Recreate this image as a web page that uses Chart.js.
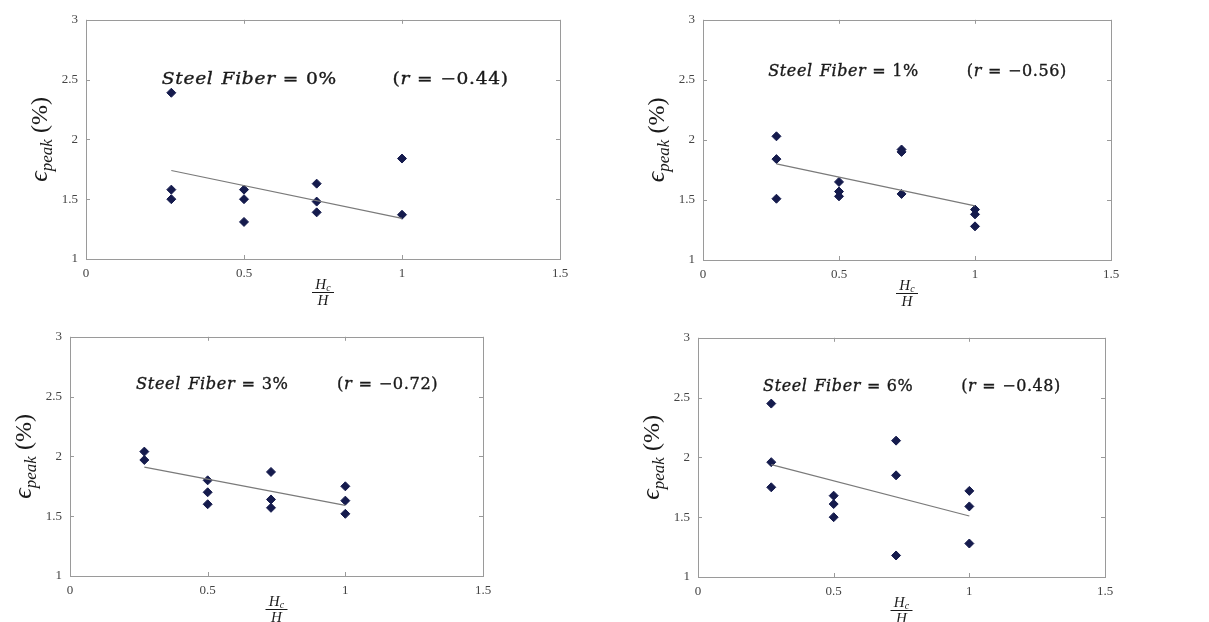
<!DOCTYPE html>
<html>
<head>
<meta charset="utf-8">
<script src="https://cdn.jsdelivr.net/npm/chart.js@4.4.0/dist/chart.umd.min.js"></script>
<style>
    html, body { margin: 0; padding: 0; background: #fff; width: 1209px; height: 622px; overflow: hidden; }
    .panel { position: absolute; }
</style>
</head>
<body>
<div id="p0" class="panel"><canvas id="c0"></canvas></div>
<div id="p1" class="panel"><canvas id="c1"></canvas></div>
<div id="p2" class="panel"><canvas id="c2"></canvas></div>
<div id="p3" class="panel"><canvas id="c3"></canvas></div>
<script>
// --- DATA ---
const xTicks = [0, 0.5, 1, 1.5];
const yTicks = [1, 1.5, 2, 2.5, 3];
const fiberLabels = ['0%', '1%', '3%', '6%'];
const rValues = ['\u22120.44', '\u22120.56', '\u22120.72', '\u22120.48'];

// Hc/H ratio and peak strain for each panel
const ratio0 = [0.27, 0.27, 0.27, 0.5, 0.5, 0.5, 0.73, 0.73, 0.73, 1, 1];
const strain0 = [2.39, 1.58, 1.50, 1.58, 1.50, 1.31, 1.63, 1.48, 1.39, 1.84, 1.37];
const ratio1 = [0.27, 0.27, 0.27, 0.5, 0.5, 0.5, 0.73, 0.73, 0.73, 1, 1, 1];
const strain1 = [2.03, 1.84, 1.51, 1.65, 1.57, 1.53, 1.92, 1.90, 1.55, 1.42, 1.38, 1.28];
const ratio3 = [0.27, 0.27, 0.5, 0.5, 0.5, 0.73, 0.73, 0.73, 1, 1, 1];
const strain3 = [2.04, 1.97, 1.80, 1.70, 1.60, 1.87, 1.64, 1.57, 1.75, 1.63, 1.52];
const ratio6 = [0.27, 0.27, 0.27, 0.5, 0.5, 0.5, 0.73, 0.73, 0.73, 1, 1, 1];
const strain6 = [2.45, 1.96, 1.75, 1.68, 1.61, 1.50, 2.14, 1.85, 1.18, 1.72, 1.59, 1.28];

// linear fit end points
const fitX = [0.27, 1];
const fit0 = [1.74, 1.34];
const fit1 = [1.80, 1.45];
const fit3 = [1.91, 1.59];
const fit6 = [1.94, 1.51];

// where the label sits (data units)
const labelY = [2.5, 2.57, 2.6, 2.59];

// --- LAYOUT (plot box in page pixels) ---
const areas = [
    { l: 86, t: 16, r: 560, b: 259 },
    { l: 703, t: 16, r: 1111, b: 260 },
    { l: 70, t: 333, r: 483, b: 576 },
    { l: 698, t: 334, r: 1105, b: 577 }
];
const AXIS_W = 70, AXIS_H = 50, PAD_T = 12, PAD_R = 25;
const BASE_W = 408; // plot width the label text is sized for

const panels = [
    { x: ratio0, y: strain0, fit: fit0 },
    { x: ratio1, y: strain1, fit: fit1 },
    { x: ratio3, y: strain3, fit: fit3 },
    { x: ratio6, y: strain6, fit: fit6 }
];

const SERIF = '"Liberation Serif", "DejaVu Serif", serif';
const MATH = '"DejaVu Serif", serif';

// --- PLUGIN: box, inward ticks, math-ish labels ---
const decorPlugin = {
    id: 'decor',
    afterDraw(chart, args, opts) {
        const { ctx, chartArea: a, scales } = chart;
        const xs = scales.x, ys = scales.y;
        ctx.save();

        // frame
        ctx.strokeStyle = '#9a9a9a';
        ctx.lineWidth = 1;
        ctx.strokeRect(Math.round(a.left) + 0.5, Math.round(a.top) + 0.5,
            Math.round(a.right - a.left), Math.round(a.bottom - a.top));

        // inward tick marks
        ctx.beginPath();
        xTicks.forEach(v => {
            const px = Math.round(xs.getPixelForValue(v)) + 0.5;
            ctx.moveTo(px, a.bottom); ctx.lineTo(px, a.bottom - 4);
            ctx.moveTo(px, a.top); ctx.lineTo(px, a.top + 4);
        });
        yTicks.forEach(v => {
            const py = Math.round(ys.getPixelForValue(v)) + 0.5;
            ctx.moveTo(a.left, py); ctx.lineTo(a.left + 4, py);
            ctx.moveTo(a.right, py); ctx.lineTo(a.right - 4, py);
        });
        ctx.stroke();

        // annotation text (stretched with the panel width, like the source image)
        const sx = (a.right - a.left) / BASE_W;
        ctx.fillStyle = '#1a1a1a';
        ctx.strokeStyle = '#1a1a1a';
        ctx.lineWidth = 0.35;
        ctx.textBaseline = 'middle';
        ctx.textAlign = 'left';
        const ty = ys.getPixelForValue(opts.labelY);
        const put = (txt, x) => { ctx.fillText(txt, x, 0); ctx.strokeText(txt, x, 0); };

        ctx.save();
        ctx.translate(xs.getPixelForValue(0.24), ty);
        ctx.scale(sx, 1);
        ctx.letterSpacing = '0.6px';
        let tx = 0;
        ctx.font = 'italic 16px ' + MATH;
        put('Steel', tx);
        tx += ctx.measureText('Steel').width + 7;
        put('Fiber', tx);
        tx += ctx.measureText('Fiber').width + 6;
        ctx.font = '16px ' + MATH;
        put('=', tx);
        tx += ctx.measureText('=').width + 6;
        put(opts.fiber, tx);
        ctx.restore();

        ctx.save();
        ctx.translate(xs.getPixelForValue(0.97), ty);
        ctx.scale(sx, 1);
        ctx.letterSpacing = '0.6px';
        tx = 0;
        ctx.font = '16px ' + MATH;
        put('(', tx);
        tx += ctx.measureText('(').width;
        ctx.font = 'italic 16px ' + MATH;
        put('r', tx);
        tx += ctx.measureText('r').width + 6;
        ctx.font = '16px ' + MATH;
        put('=', tx);
        tx += ctx.measureText('=').width + 6;
        put(opts.r + ')', tx);
        ctx.restore();

        // y axis title: epsilon_peak (%)
        ctx.save();
        ctx.translate(a.left - 47, (a.top + a.bottom) / 2);
        ctx.rotate(-Math.PI / 2);
        ctx.textBaseline = 'alphabetic';
        const partsY = [
            { t: '\u03F5', f: 'italic 26px ' + SERIF, dy: 0 },
            { t: 'peak', f: 'italic 17px ' + SERIF, dy: 5 },
            { t: ' (%)', f: '24px ' + SERIF, dy: 0 }
        ];
        let total = 0;
        partsY.forEach(p => { ctx.font = p.f; total += ctx.measureText(p.t).width; });
        let cx = -total / 2;
        partsY.forEach(p => {
            ctx.font = p.f;
            ctx.fillText(p.t, cx, 8 + p.dy);
            cx += ctx.measureText(p.t).width;
        });
        ctx.restore();

        // x axis title: Hc / H
        const mx = (a.left + a.right) / 2;
        ctx.textBaseline = 'alphabetic';
        ctx.font = 'italic 15px ' + SERIF;
        const hw = ctx.measureText('H').width;
        ctx.font = 'italic 10px ' + SERIF;
        const cw = ctx.measureText('c').width;
        const numW = hw + cw;
        ctx.font = 'italic 15px ' + SERIF;
        ctx.fillText('H', mx - numW / 2, a.bottom + 30);
        ctx.font = 'italic 10px ' + SERIF;
        ctx.fillText('c', mx - numW / 2 + hw, a.bottom + 32);
        ctx.fillRect(mx - 11, a.bottom + 33, 22, 1);
        ctx.font = 'italic 15px ' + SERIF;
        ctx.fillText('H', mx - hw / 2, a.bottom + 46);

        ctx.restore();
    }
};

function buildChart(i) {
    const area = areas[i];
    const p = panels[i];
    const wrap = document.getElementById('p' + i);
    const w = (area.r - area.l) + AXIS_W + PAD_R;
    const h = (area.b - area.t) + PAD_T + AXIS_H;
    wrap.style.left = (area.l - AXIS_W) + 'px';
    wrap.style.top = (area.t - PAD_T) + 'px';
    wrap.style.width = w + 'px';
    wrap.style.height = h + 'px';

    const points = p.x.map((x, k) => ({ x: x, y: p.y[k] }));
    const fitLine = fitX.map((x, k) => ({ x: x, y: p.fit[k] }));

    return new Chart(document.getElementById('c' + i), {
        type: 'scatter',
        data: {
            datasets: [
                {
                    data: fitLine,
                    showLine: true,
                    borderColor: '#7a7a7a',
                    borderWidth: 1.2,
                    pointRadius: 0,
                    fill: false
                },
                {
                    data: points,
                    pointStyle: 'rectRot',
                    pointRadius: 4.5,
                    backgroundColor: '#151b4d',
                    borderColor: '#151b4d',
                    borderWidth: 1
                }
            ]
        },
        options: {
            responsive: true,
            maintainAspectRatio: false,
            animation: false,
            layout: { autoPadding: false, padding: { top: PAD_T, right: PAD_R, left: 0, bottom: 0 } },
            plugins: {
                legend: { display: false },
                tooltip: { enabled: false },
                decor: { labelY: labelY[i], fiber: fiberLabels[i], r: rValues[i] }
            },
            scales: {
                x: {
                    type: 'linear',
                    min: xTicks[0],
                    max: xTicks[xTicks.length - 1],
                    afterBuildTicks: s => { s.ticks = xTicks.map(v => ({ value: v })); },
                    afterFit: s => { s.height = AXIS_H; },
                    grid: { display: false, drawTicks: false },
                    border: { display: false },
                    ticks: {
                        autoSkip: false,
                        maxRotation: 0,
                        padding: 7,
                        color: '#444',
                        font: { family: SERIF, size: 13 },
                        callback: v => String(v)
                    }
                },
                y: {
                    type: 'linear',
                    min: yTicks[0],
                    max: yTicks[yTicks.length - 1],
                    afterBuildTicks: s => { s.ticks = yTicks.map(v => ({ value: v })); },
                    afterFit: s => { s.width = AXIS_W; },
                    grid: { display: false, drawTicks: false },
                    border: { display: false },
                    ticks: {
                        autoSkip: false,
                        padding: 8,
                        color: '#444',
                        font: { family: SERIF, size: 13 },
                        callback: v => String(v)
                    }
                }
            }
        },
        plugins: [decorPlugin]
    });
}

document.addEventListener('DOMContentLoaded', () => {
    // --- DRAW ALL FOUR PANELS ---
    [0, 1, 2, 3].forEach(buildChart);
});
</script>
</body>
</html>
